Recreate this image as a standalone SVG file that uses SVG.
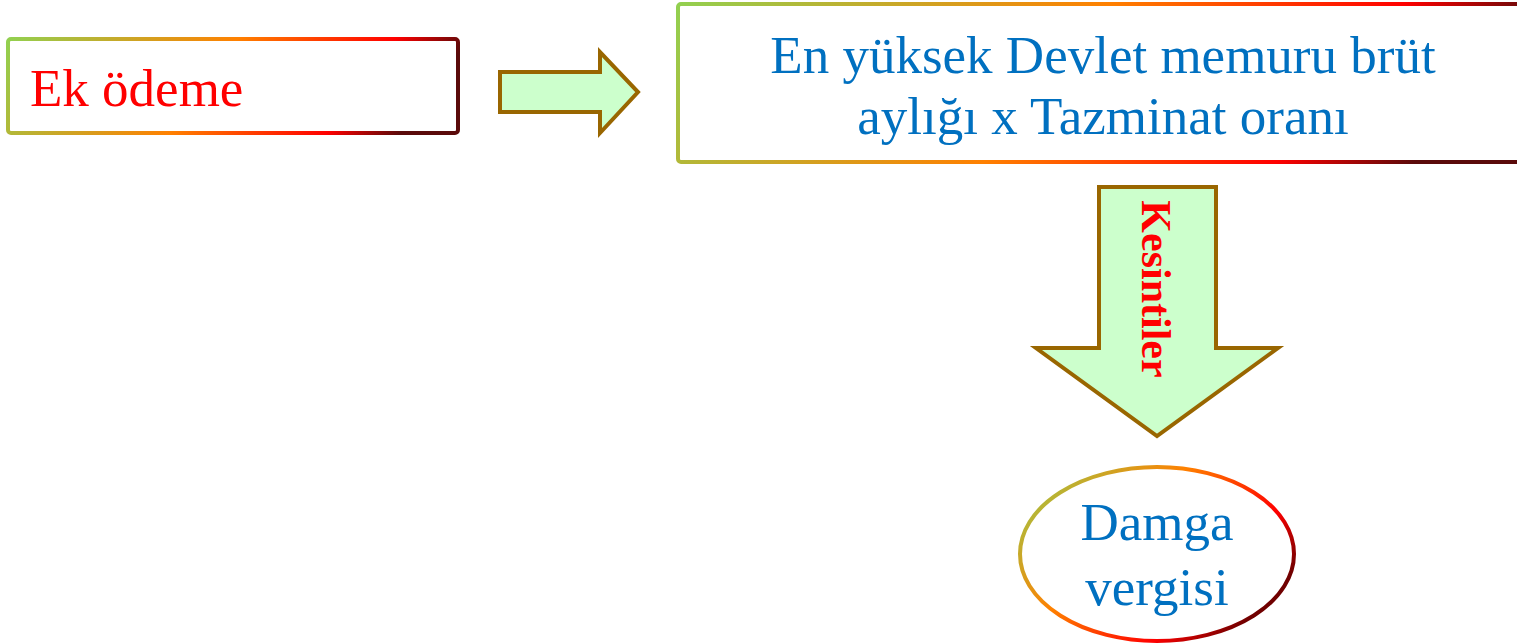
<svg xmlns="http://www.w3.org/2000/svg" width="1517" height="643" viewBox="0 0 1517 643">
<defs>
<linearGradient id="gBox" x1="0" y1="0" x2="1" y2="0.15">
<stop offset="0" stop-color="#92D050"/>
<stop offset="0.5" stop-color="#FF8000"/>
<stop offset="0.84" stop-color="#FF0000"/>
<stop offset="1" stop-color="#5A0A0A"/>
</linearGradient>
<linearGradient id="gEll" x1="0" y1="0" x2="1" y2="0.6">
<stop offset="0" stop-color="#92D050"/>
<stop offset="0.45" stop-color="#FF8000"/>
<stop offset="0.8" stop-color="#FF0000"/>
<stop offset="1" stop-color="#700000"/>
</linearGradient>
<style>
.box{fill:#FFFFFF;stroke:url(#gBox);stroke-width:4}
.ell{fill:#FFFFFF;stroke:url(#gEll);stroke-width:4}
.arrow{fill:#CCFFCC;stroke:#996600;stroke-width:4;stroke-linejoin:miter}
.t{font-family:"Liberation Serif","Times New Roman",serif;font-size:53px}
.blue{fill:#0070C0}
.red{fill:#FF0000}
</style>
</defs>
<g id="ek-odeme">
<rect class="box" x="8" y="39" width="450" height="94" rx="3"/>
<text class="t red" x="30" y="106">Ek ödeme</text>
</g>
<g id="connectors">
<path id="arrow-right" class="arrow" d="M500,72 L600,72 L600,52 L638,92 L600,133 L600,112 L500,112 Z"/>
<g id="arrow-down">
<path class="arrow" d="M1099,187 L1216,187 L1216,348 L1278,348 L1157,436 L1036,348 L1099,348 Z"/>
<text transform="translate(1142,289) rotate(90)" text-anchor="middle" style="font-family:'Liberation Serif','Times New Roman',serif;font-size:42px;font-weight:bold;fill:#FF0000">Kesintiler</text>
</g>
</g>
<g id="formula">
<rect class="box" x="678" y="4" width="845" height="158" rx="3"/>
<text class="t blue" x="1103" y="73" text-anchor="middle">En yüksek Devlet memuru brüt</text>
<text class="t blue" x="1103" y="134" text-anchor="middle">aylığı x Tazminat oranı</text>
</g>
<g id="damga">
<ellipse class="ell" cx="1157" cy="554" rx="137" ry="87"/>
<text class="t blue" x="1157" y="540" text-anchor="middle">Damga</text>
<text class="t blue" x="1157" y="605" text-anchor="middle">vergisi</text>
</g>
</svg>
